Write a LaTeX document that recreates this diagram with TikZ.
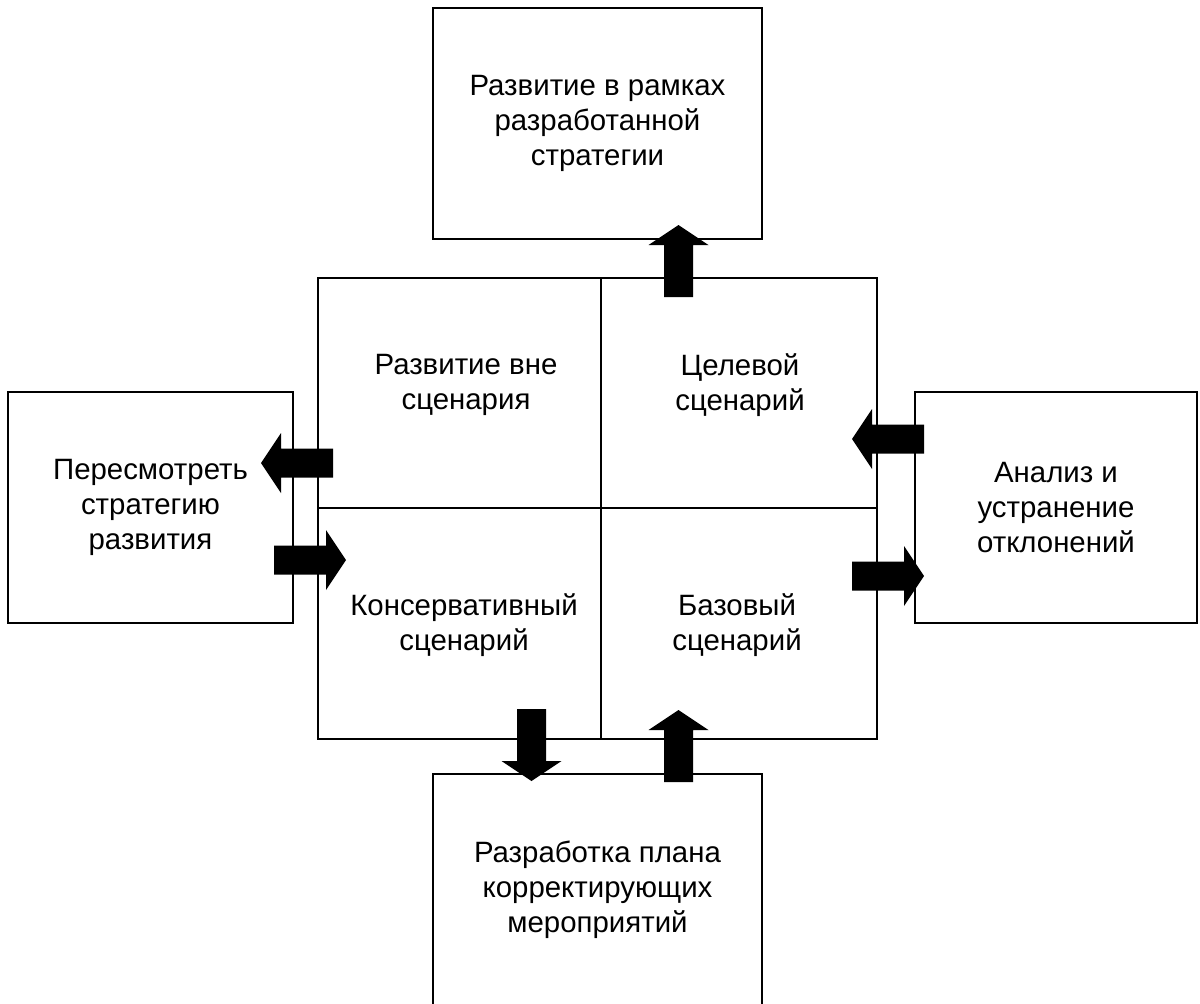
\documentclass[tikz,border=0pt]{standalone}
\usepackage{fontspec}
\setmainfont{Liberation Sans}
\tikzset{
  pics/barrow/.style={code={\fill[black] (0,-14.5) -- (52,-14.5) -- (52,-30) -- (72,0) -- (52,30) -- (52,14.5) -- (0,14.5) -- cycle;}},
  box/.style={draw=black,line width=1pt,inner sep=0pt,outer sep=0pt,align=center,font=\fontsize{14.7}{17.5}\selectfont},
  cell/.style={draw=black,line width=1pt,inner sep=0pt,outer sep=0pt},
  lbl/.style={align=center,inner sep=0pt,font=\fontsize{14.7}{17.5}\selectfont}
}
\begin{document}
\begin{tikzpicture}[x=0.5pt,y=-0.5pt]
\useasboundingbox (0,0) rectangle (1200,1003);
\clip (0,0) rectangle (1200,1003);
\fill[white] (0,0) rectangle (1200,1003);
% outer boxes
\node[box,minimum width=164.5pt,minimum height=115.5pt] (top) at (597.5,123.5) {Развитие в рамках\\разработанной\\стратегии};
\node[box,minimum width=142.5pt,minimum height=115.5pt] (left) at (150.5,507.5) {Пересмотреть\\стратегию\\развития};
\node[box,minimum width=141pt,minimum height=115.5pt] (right) at (1056,507.5) {Анализ и\\устранение\\отклонений};
\node[box,minimum width=164.5pt,minimum height=115.5pt] (bottom) at (597.5,889.5) {Разработка плана\\корректирующих\\мероприятий};
% grid cells
\node[cell,minimum width=141.5pt,minimum height=115pt] (tl) at (459.5,393) {};
\node[cell,minimum width=138pt,minimum height=115pt] (tr) at (739,393) {};
\node[cell,minimum width=141.5pt,minimum height=115.5pt] (bl) at (459.5,623.5) {};
\node[cell,minimum width=138pt,minimum height=115.5pt] (br) at (739,623.5) {};
\node[lbl] (tltext) at (466,385) {Развитие вне\\сценария};
\node[lbl] (trtext) at (740,385) {Целевой\\сценарий};
\node[lbl] (bltext) at (464,625) {Консервативный\\сценарий};
\node[lbl] (brtext) at (737,625) {Базовый\\сценарий};
% block arrows
\coordinate (a1) at (678.5,297);
\coordinate (a2) at (333,463);
\coordinate (a3) at (924,439);
\coordinate (a4) at (852,576);
\coordinate (a5) at (274,560);
\coordinate (a6) at (531.5,709);
\coordinate (a7) at (678.5,782);
\pic[rotate=90] at (a1) {barrow};
\pic[rotate=180] at (a2) {barrow};
\pic[rotate=180] at (a3) {barrow};
\pic at (a4) {barrow};
\pic at (a5) {barrow};
\pic[rotate=270] at (a6) {barrow};
\pic[rotate=90] at (a7) {barrow};
\end{tikzpicture}
\end{document}
